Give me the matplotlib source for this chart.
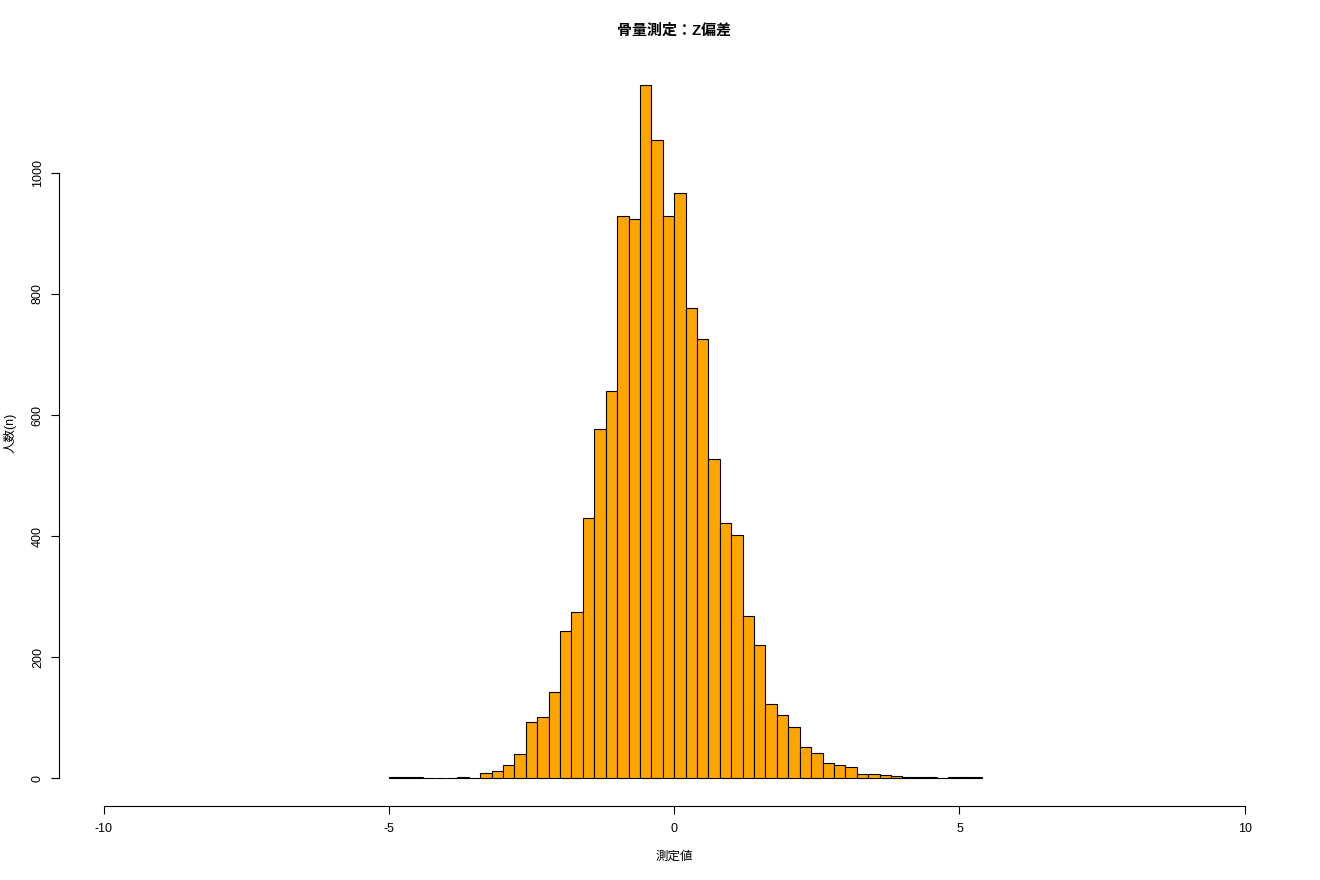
import numpy as np
import matplotlib
matplotlib.use("Agg")
import matplotlib.pyplot as plt

plt.rcParams['font.family'] = ['Liberation Sans', 'Noto Sans CJK JP', 'DejaVu Sans']

# Histogram data (bin width 0.2, from -5.0 to 5.4)
bin_start = -5.0
bin_width = 0.2
counts = [1, 1, 1, 0, 0, 0, 2, 0, 8, 12,
          21, 40, 92, 101, 143, 243, 275, 429, 577, 640,
          929, 924, 1145, 1054, 929, 967, 777, 725, 527, 421,
          402, 267, 220, 123, 104, 85, 52, 41, 25, 21,
          19, 6, 6, 5, 3, 1, 1, 1, 0, 1,
          1, 1]
x_ticks = [-10, -5, 0, 5, 10]
y_ticks = [0, 200, 400, 600, 800, 1000]
title = "骨量測定：Z偏差"
xlabel = "測定値"
ylabel = "人数(n)"

edges = bin_start + bin_width * np.arange(len(counts) + 1)

fig = plt.figure(figsize=(13.2, 8.8), dpi=100)
ax = fig.add_axes([0.0448, 0.0844, 0.9319, 0.8501])

ax.bar(edges[:-1], counts, width=bin_width, align='edge',
       color='#FFA500', edgecolor='black', linewidth=0.8)

ymax = max(counts)
ax.set_xlim(-10.78, 10.78)
ax.set_ylim(-0.04 * ymax, 1.04 * ymax)

for s in ['top', 'right']:
    ax.spines[s].set_visible(False)
ax.spines['bottom'].set_bounds(x_ticks[0], x_ticks[-1])
ax.spines['left'].set_bounds(y_ticks[0], y_ticks[-1])
ax.spines['bottom'].set_linewidth(0.8)
ax.spines['left'].set_linewidth(0.8)

ax.set_xticks(x_ticks)
ax.set_xticklabels([str(t) for t in x_ticks])
ax.set_yticks(y_ticks)
ax.set_yticklabels([str(t) for t in y_ticks], rotation=90, va='center')
ax.tick_params(axis='x', length=6, width=0.8, pad=6.5, labelsize=9)
ax.tick_params(axis='y', length=6, width=0.8, pad=5, labelsize=9)

fig.text(674 / 1320, 1 - 31 / 880, title, ha='center', va='center',
         fontsize=10.8, fontweight='bold')
fig.text(674 / 1320, 1 - 857 / 880, xlabel, ha='center', va='center', fontsize=9)
fig.text(10 / 1320, 1 - 433 / 880, ylabel, ha='center', va='center',
         rotation=90, fontsize=9)

fig.savefig("out.png", dpi=100)
